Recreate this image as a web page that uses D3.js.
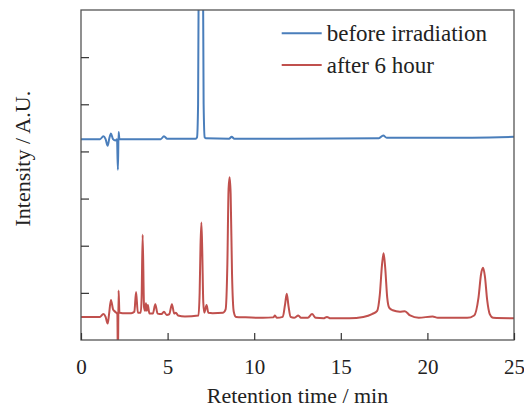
<!DOCTYPE html>
<html>
<head>
<meta charset="utf-8">
<script src="https://cdn.jsdelivr.net/npm/d3@7"></script>
<style>
  body { margin: 0; background: #fff; }
  svg text { font-family: "Liberation Serif", "Times New Roman", serif; fill: #222; }
</style>
</head>
<body>
<svg id="chart"></svg>
<script>
// retention time (min), intensity (a.u.)
const beforeData = [
  [0, 4.26], [1.1, 4.26], [1.29, 4.32], [1.42, 4.26], [1.54, 4.12], [1.63, 4.27],
  [1.73, 4.38], [1.85, 4.26], [1.98, 4.23], [2.08, 4.26], [2.13, 3.61], [2.17, 4.41],
  [2.22, 4.26], [4.6, 4.26], [4.79, 4.32], [4.98, 4.27], [6.62, 4.27], [6.7, 4.3],
  [6.76, 5.0], [6.8, 8], [6.86, 20], [6.92, 25], [6.98, 20], [7.04, 8], [7.08, 5.0],
  [7.14, 4.3], [7.2, 4.28], [8.55, 4.27], [8.7, 4.31], [8.85, 4.27], [12, 4.27],
  [17.2, 4.28], [17.45, 4.34], [17.65, 4.29], [21, 4.29], [25, 4.31]
];
const afterData = [
  [0, 0.49], [1.1, 0.49], [1.29, 0.55], [1.42, 0.49], [1.54, 0.35], [1.62, 0.55],
  [1.73, 0.85], [1.85, 0.65], [1.97, 0.6], [2.1, 0.55], [2.13, -0.5], [2.17, 1.05],
  [2.22, 0.58], [2.4, 0.57], [2.9, 0.57], [3.08, 0.6], [3.18, 1.02], [3.28, 0.58],
  [3.45, 0.58], [3.5, 0.9], [3.56, 2.23], [3.64, 0.7], [3.7, 0.62], [3.75, 0.78],
  [3.8, 0.62], [3.86, 0.74], [3.95, 0.56], [4.15, 0.56], [4.29, 0.76], [4.42, 0.56],
  [4.65, 0.55], [4.79, 0.6], [4.95, 0.53], [5.1, 0.55], [5.25, 0.76], [5.38, 0.56],
  [5.48, 0.58], [5.6, 0.52], [6.0, 0.5], [6.78, 0.52], [6.85, 1.0], [6.9, 2.0],
  [6.95, 2.49], [7.0, 1.9], [7.06, 0.8], [7.12, 0.58], [7.25, 0.74], [7.35, 0.58],
  [7.6, 0.57], [8.2, 0.58], [8.35, 0.65], [8.45, 1.6], [8.52, 3.2], [8.58, 3.45],
  [8.64, 3.1], [8.72, 1.4], [8.82, 0.6], [8.95, 0.49], [9.5, 0.48], [10.5, 0.47],
  [11.1, 0.48], [11.2, 0.52], [11.3, 0.47], [11.65, 0.49], [11.78, 0.75], [11.88, 0.98],
  [11.98, 0.72], [12.1, 0.49], [12.3, 0.47], [12.55, 0.52], [12.7, 0.47], [13.1, 0.47],
  [13.34, 0.55], [13.55, 0.47], [14.0, 0.46], [14.2, 0.49], [14.4, 0.46], [15.5, 0.46],
  [16.3, 0.49], [16.8, 0.55], [17.1, 0.62], [17.25, 0.95], [17.38, 1.6], [17.47, 1.84],
  [17.56, 1.55], [17.68, 0.9], [17.8, 0.68], [18.0, 0.63], [18.4, 0.6], [18.7, 0.61],
  [19.0, 0.52], [19.5, 0.47], [20.3, 0.5], [20.6, 0.47], [22.3, 0.47], [22.7, 0.52],
  [22.95, 0.9], [23.1, 1.4], [23.21, 1.53], [23.32, 1.35], [23.45, 0.85], [23.6, 0.55],
  [23.8, 0.47], [25, 0.46]
];
const seriesNames = ["before irradiation", "after 6 hour"];
const seriesColors = ["#4a7ebb", "#c0504d"];
const xTicks = [0, 5, 10, 15, 20, 25];
const yTicks = [1, 2, 3, 4, 5, 6];

const width = 524, height = 411;
const margin = {top: 10, right: 10, bottom: 71, left: 81};
const innerW = width - margin.left - margin.right;
const innerH = height - margin.top - margin.bottom;

const svg = d3.select('#chart')
    .attr('width', width)
    .attr('height', height);

const chart = svg.append('g')
    .attr('transform', `translate(${margin.left},${margin.top})`);

const xScale = d3.scaleLinear().domain([0, 25]).range([0, innerW]);
const yScale = d3.scaleLinear().domain([0, 7]).range([innerH, 0]);

svg.append('defs').append('clipPath')
    .attr('id', 'clip')
    .append('rect')
    .attr('width', innerW)
    .attr('height', innerH);

const line = d3.line()
    .x(d => xScale(d[0]))
    .y(d => yScale(d[1]))
    .curve(d3.curveMonotoneX);

const plot = chart.append('g').attr('clip-path', 'url(#clip)');

[beforeData, afterData].forEach((data, i) => {
    plot.append('path')
        .datum(data)
        .attr('fill', 'none')
        .attr('stroke', seriesColors[i])
        .attr('stroke-width', 2)
        .attr('stroke-linejoin', 'round')
        .attr('d', line);
});

// frame
chart.append('rect')
    .attr('width', innerW)
    .attr('height', innerH)
    .attr('fill', 'none')
    .attr('stroke', '#555')
    .attr('stroke-width', 1.3);

const xAxis = d3.axisBottom(xScale)
    .tickValues(xTicks)
    .tickSizeInner(-7)
    .tickSizeOuter(0)
    .tickPadding(19);

const yAxis = d3.axisLeft(yScale)
    .tickValues(yTicks)
    .tickSizeInner(-8)
    .tickSizeOuter(0)
    .tickFormat('');

const xg = chart.append('g')
    .attr('transform', `translate(0,${innerH})`)
    .call(xAxis);
const yg = chart.append('g').call(yAxis);

[xg, yg].forEach(g => {
    g.select('.domain').remove();
    g.selectAll('line').attr('stroke', '#333').attr('stroke-width', 1.2);
});
xg.selectAll('text')
    .style('font-size', '21px')
    .attr('fill', '#222');

chart.append('text')
    .attr('x', innerW / 2)
    .attr('y', innerH + 63)
    .attr('text-anchor', 'middle')
    .style('font-size', '22px')
    .text('Retention time / min');

svg.append('text')
    .attr('transform', `translate(30,${158.7}) rotate(-90)`)
    .attr('text-anchor', 'middle')
    .style('font-size', '22px')
    .text('Intensity / A.U.');

// legend
const legend = chart.append('g')
    .attr('transform', `translate(${281.7 - margin.left},${33.3 - margin.top})`);

seriesNames.forEach((name, i) => {
    const row = legend.append('g').attr('transform', `translate(0,${i * 31.7})`);
    row.append('line')
        .attr('x1', 0).attr('x2', 40)
        .attr('stroke', seriesColors[i])
        .attr('stroke-width', 2);
    row.append('text')
        .attr('x', 45)
        .attr('dy', '0.33em')
        .style('font-size', '23px')
        .text(name);
});
</script>
</body>
</html>
